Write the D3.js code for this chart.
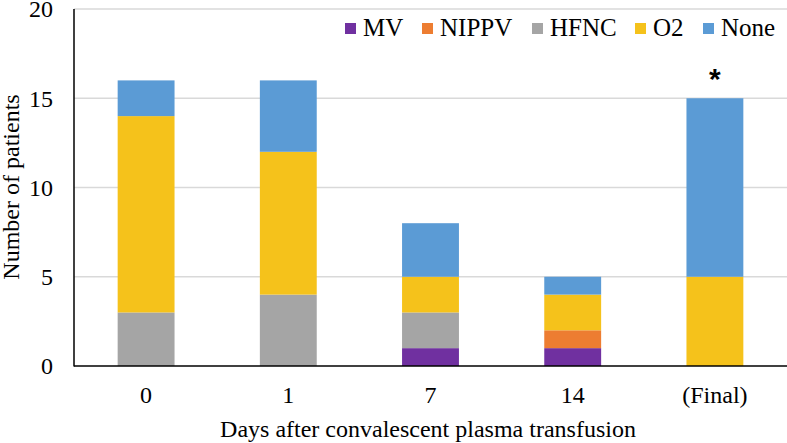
<!DOCTYPE html>
<html>
<head>
<meta charset="utf-8">
<script src="https://cdn.jsdelivr.net/npm/d3@7"></script>
<style>
  body { margin: 0; background: #fff; }
  text { font-family: "Liberation Serif", "Times New Roman", serif; fill: #000; }
</style>
</head>
<body>
<svg id="chart" width="787" height="443"></svg>
<script>
// data
const days = ["0", "1", "7", "14", "(Final)"];
const series = ["MV", "NIPPV", "HFNC", "O2", "None"];
const mv    = [0, 0, 1, 1, 0];
const nippv = [0, 0, 0, 1, 0];
const hfnc  = [3, 4, 2, 0, 0];
const o2    = [11, 8, 2, 2, 5];
const none  = [2, 4, 3, 1, 10];
const yTicks = [0, 5, 10, 15, 20];

const colors = ["#7030A0", "#ED7D31", "#A5A5A5", "#F5C21B", "#5B9BD5"];

const svg = d3.select("#chart");
const width = 787;

// rows for the stack
const rows = days.map((d, i) => ({
  day: d, MV: mv[i], NIPPV: nippv[i], HFNC: hfnc[i], O2: o2[i], None: none[i]
}));

const x = d3.scaleBand()
  .domain(days)
  .range([75, 786])
  .paddingInner(0.6)
  .paddingOuter(0.3);

const y = d3.scaleLinear()
  .domain([0, 20])
  .range([366, 9]);

// gridlines
svg.append("g")
  .selectAll("line")
  .data(yTicks.filter(t => t > 0))
  .join("line")
  .attr("x1", 74).attr("x2", width)
  .attr("y1", d => y(d)).attr("y2", d => y(d))
  .attr("stroke", "#D9D9D9")
  .attr("stroke-width", 1.5);

// stacked bars
const stacked = d3.stack().keys(series)(rows);
svg.append("g")
  .selectAll("g")
  .data(stacked)
  .join("g")
  .attr("fill", (d, i) => colors[i])
  .selectAll("rect")
  .data(d => d)
  .join("rect")
  .attr("x", d => x(d.data.day))
  .attr("width", x.bandwidth())
  .attr("y", d => y(d[1]))
  .attr("height", d => y(d[0]) - y(d[1]));

// axes lines
svg.append("line")
  .attr("x1", 74).attr("x2", 74)
  .attr("y1", y(20)).attr("y2", y(0) + 0.5)
  .attr("stroke", "#000").attr("stroke-width", 1.5);
svg.append("line")
  .attr("x1", 74).attr("x2", width)
  .attr("y1", y(0)).attr("y2", y(0))
  .attr("stroke", "#000").attr("stroke-width", 1.5);

// y tick labels
svg.append("g")
  .selectAll("text")
  .data(yTicks)
  .join("text")
  .attr("x", 53)
  .attr("y", d => y(d))
  .attr("dy", "0.35em")
  .attr("text-anchor", "end")
  .style("font-size", "24px")
  .text(d => d);

// x tick labels
svg.append("g")
  .selectAll("text")
  .data(days)
  .join("text")
  .attr("x", d => x(d) + x.bandwidth() / 2)
  .attr("y", 403)
  .attr("text-anchor", "middle")
  .style("font-size", "24px")
  .text(d => d);

// axis titles
svg.append("text")
  .attr("x", 428)
  .attr("y", 437)
  .attr("text-anchor", "middle")
  .style("font-size", "24px")
  .text("Days after convalescent plasma transfusion");

svg.append("text")
  .attr("transform", "translate(19,187) rotate(-90)")
  .attr("text-anchor", "middle")
  .style("font-size", "24px")
  .text("Number of patients");

// significance star over the last bar
svg.append("text")
  .attr("x", x("(Final)") + x.bandwidth() / 2)
  .attr("y", 89)
  .attr("text-anchor", "middle")
  .style("font-family", "'Liberation Sans', Arial, sans-serif")
  .style("font-weight", "bold")
  .style("font-size", "30px")
  .text("*");

// legend
const legendX = [345, 422, 532, 635, 703];
const legend = svg.append("g")
  .selectAll("g")
  .data(series)
  .join("g")
  .attr("transform", (d, i) => `translate(${legendX[i]},23)`);
legend.append("rect")
  .attr("width", 11).attr("height", 11)
  .attr("fill", (d, i) => colors[i]);
legend.append("text")
  .attr("x", 18)
  .attr("y", 13)
  .style("font-size", "25px")
  .text(d => d);
</script>
</body>
</html>
